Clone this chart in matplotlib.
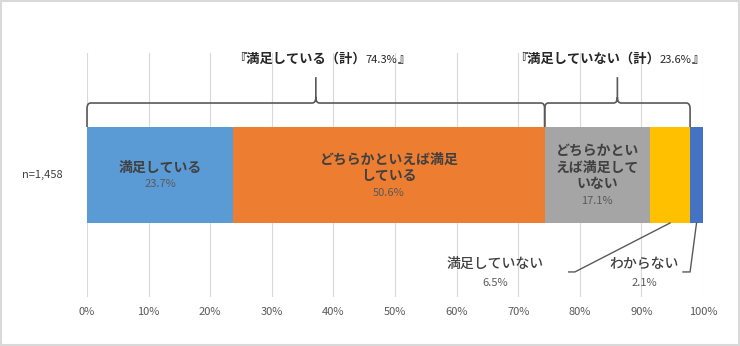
import matplotlib
matplotlib.use("Agg")
import matplotlib.pyplot as plt
from matplotlib.path import Path
from matplotlib.patches import PathPatch, Rectangle
import numpy as np

plt.rcParams['font.family'] = ['Noto Sans CJK JP', 'DejaVu Sans']

# data
categories = ['満足している', 'どちらかといえば満足している', 'どちらかといえば満足していない',
              '満足していない', 'わからない']
values = [23.7, 50.6, 17.1, 6.5, 2.1]
colors = ['#5B9BD5', '#ED7D31', '#A5A5A5', '#FFC000', '#4472C4']
inside_lines = [['満足している'], ['どちらかといえば満足', 'している'],
                ['どちらかとい', 'えば満足して', 'いない']]
group_names = ['満足している（計）', '満足していない（計）']
group_totals = [74.3, 23.6]
group_members = [(0, 2), (2, 4)]   # first index, one past last index
sample_label = 'n=1,458'
ticks = np.arange(0, 101, 10)

DARK = '#404040'
GREY = '#595959'

fig = plt.figure(figsize=(7.4, 3.46), dpi=100)
ax = fig.add_axes([87 / 740, 49 / 346, 616 / 740, 244 / 346])
ax.set_xlim(0, 100)
ax.set_ylim(-1.271, 1.271)

for t in ticks:
    ax.axvline(t, color='#D9D9D9', lw=0.8, zorder=0)

lefts = np.concatenate([[0], np.cumsum(values)[:-1]])
centers = lefts + np.array(values) / 2
ax.barh(0, values, left=lefts, height=1.0, color=colors, zorder=2)

# labels inside the bar
pitch = 16.5
for i, lines in enumerate(inside_lines):
    k = len(lines) + 1
    for j, line in enumerate(lines + [f'{values[i]}%']):
        off = -(j - (k - 1) / 2) * pitch - 1
        is_pct = j == len(lines)
        ax.annotate(line, (centers[i], 0), xytext=(0, off), textcoords='offset pixels',
                    ha='center', va='center', fontsize=8 if is_pct else 10,
                    fontweight='normal' if is_pct else 'bold',
                    color=GREY if is_pct else DARK, zorder=3)

# outside labels with leader lines
outside = [(3, 66.2, [(79.2, -1.01), (78.2, -1.01)]),
           (4, 90.4, [(97.9, -1.01), (96.75, -1.01)])]
for idx, lx, pts in outside:
    xs = [centers[idx]] + [p[0] for p in pts]
    ys = [-0.5] + [p[1] for p in pts]
    ax.plot(xs, ys, color=GREY, lw=1.0, zorder=3, clip_on=False)
    ax.text(lx, -0.93, categories[idx], ha='center', va='center', fontsize=10,
            fontweight='medium', color=DARK)
    ax.text(lx, -1.12, f'{values[idx]}%', ha='center', va='center', fontsize=8,
            color=GREY)

# braces
def brace(xa, xb, xm, ybase=0.5, ymid=0.75, ytip=1.02, rx=0.6, ry=0.06):
    verts = [(xa, ybase), (xa, ymid - ry), (xa, ymid), (xa + rx, ymid),
             (xm - rx, ymid), (xm, ymid), (xm, ymid + ry), (xm, ytip),
             (xb, ybase), (xb, ymid - ry), (xb, ymid), (xb - rx, ymid),
             (xm + rx, ymid), (xm, ymid), (xm, ymid + ry)]
    codes = [Path.MOVETO, Path.LINETO, Path.CURVE3, Path.CURVE3,
             Path.LINETO, Path.CURVE3, Path.CURVE3, Path.LINETO,
             Path.MOVETO, Path.LINETO, Path.CURVE3, Path.CURVE3,
             Path.LINETO, Path.CURVE3, Path.CURVE3]
    ax.add_patch(PathPatch(Path(verts, codes), fill=False, edgecolor=GREY, lw=1.2,
                           zorder=3, clip_on=False))

renderer = fig.canvas.get_renderer()
title_shift = [6, -8]
for g, (a, b) in enumerate(group_members):
    xa = lefts[a]
    xb = lefts[b - 1] + values[b - 1]
    xm = (xa + xb) / 2
    brace(xa, xb, xm)
    parts = [('『' + group_names[g], 9.5, 'bold'), (f'{group_totals[g]}%', 8, 'normal'),
             ('』', 9.5, 'bold')]
    texts = []
    for s, fs, fw in parts:
        texts.append(ax.annotate(s, (xm, 1.219), xytext=(0, 0), textcoords='offset pixels',
                                 ha='left', va='baseline', fontsize=fs, fontweight=fw,
                                 color='#262626'))
    widths = [t.get_window_extent(renderer).width for t in texts]
    x0 = -sum(widths) / 2 + title_shift[g]
    for t, w in zip(texts, widths):
        t.xyann = (x0, -5)
        x0 += w

ax.text(-0.072, 0, sample_label, transform=ax.get_yaxis_transform(), ha='center',
        va='center', fontsize=8, color=DARK)

ax.set_xticks(ticks)
ax.set_xticklabels([f'{t}%' for t in ticks], fontsize=8, color=GREY)
ax.tick_params(axis='x', length=0, pad=7)
ax.set_yticks([])
for sp in ax.spines.values():
    sp.set_visible(False)

fig.patches.append(Rectangle((0.001, 0.002), 0.997, 0.995, transform=fig.transFigure,
                             fill=False, edgecolor='#D9D9D9', lw=1.5))

fig.savefig('out.png', dpi=100)
